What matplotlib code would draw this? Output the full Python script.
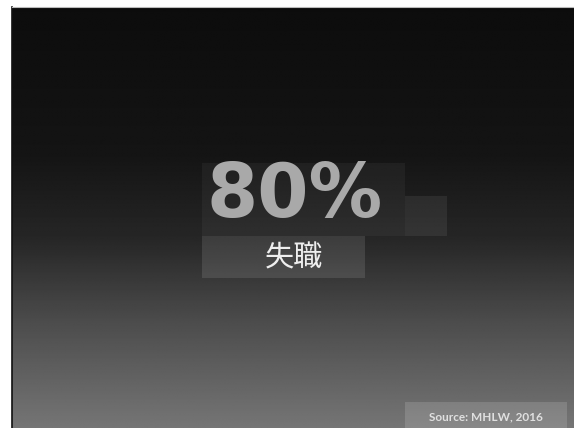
import matplotlib
matplotlib.use("Agg")
from matplotlib import pyplot as plt
from matplotlib.patches import Rectangle
import numpy as np

# slide content
big_value = "80%"
big_label = "失職"
source_text = "Source: MHLW, 2016"

# gradient stops (fraction down the slide, grey level)
grad_pos = [0.0, 0.35, 0.55, 0.75, 1.0]
grad_level = [0.05, 0.08, 0.15, 0.30, 0.46]

fig = plt.figure(figsize=(5.74, 4.28), dpi=100)
ax = fig.add_axes([0, 0, 1, 1])
ax.set_xlim(0, 574)
ax.set_ylim(428, 0)
ax.axis("off")

# background panel with vertical gradient
rows = np.linspace(0, 1, 400)
grey = np.interp(rows, grad_pos, grad_level)
img = np.repeat(grey[:, None], 2, axis=1)
ax.imshow(img, cmap="gray", vmin=0, vmax=1, aspect="auto",
          extent=[12, 574, 428, 7], interpolation="bilinear")
ax.plot([12, 12], [7, 428], color="#111111", lw=1.2)
ax.plot([12, 574], [7, 7], color="#bbbbbb", lw=0.8)

# translucent boxes behind the figure
ax.add_patch(Rectangle((202, 163), 203, 73, color="white", alpha=0.045, lw=0))
ax.add_patch(Rectangle((405, 196), 42, 40, color="white", alpha=0.07, lw=0))
ax.add_patch(Rectangle((202, 236), 163, 42, color="white", alpha=0.11, lw=0))

ax.text(295, 196, big_value, ha="center", va="center", fontsize=53,
        fontweight="bold", color="#a9a9a9", family=["DejaVu Sans"])
ax.text(294, 258, big_label, ha="center", va="center", fontsize=21,
        color="#eeeeee", family=["Noto Sans CJK JP", "DejaVu Sans"])

# source tag
ax.add_patch(Rectangle((405, 402), 162, 26, color="white", alpha=0.14, lw=0))
ax.text(486, 416.5, source_text, ha="center", va="center", fontsize=8.5,
        fontweight="bold", color="#e0e0e0", family=["Lato", "DejaVu Sans"])

fig.savefig("out.png", dpi=100)
